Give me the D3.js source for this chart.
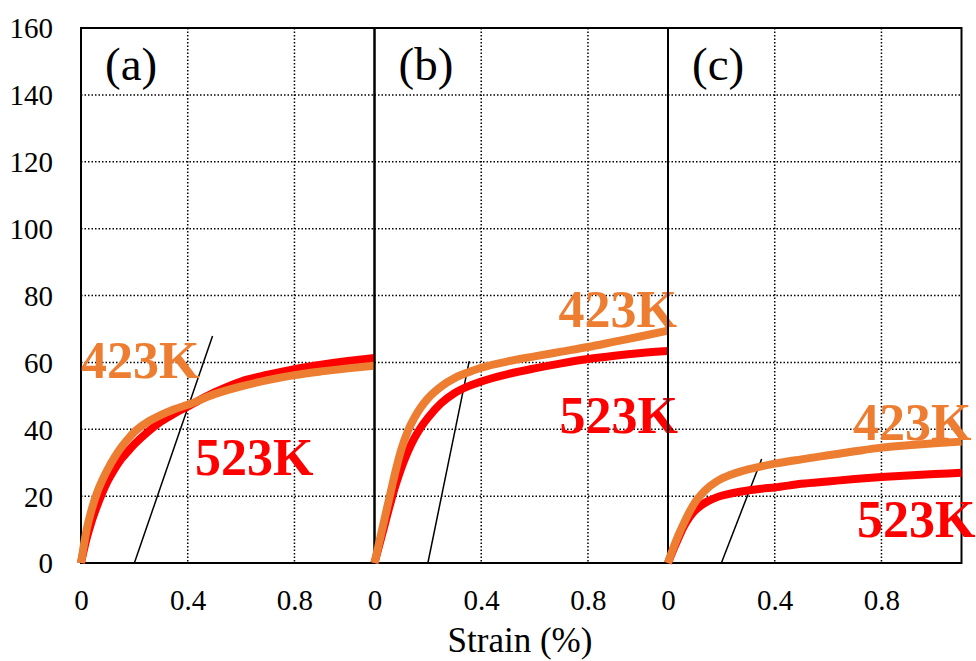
<!DOCTYPE html>
<html>
<head>
<meta charset="utf-8">
<script src="https://cdn.jsdelivr.net/npm/d3@7"></script>
<style>
body { margin: 0; background: #fff; }
text { font-family: "Liberation Serif", "Times New Roman", serif; }
</style>
</head>
<body>
<div id="plot"></div>
<script>
// strain (%) sample points shared by all curves
const strain = [0, 0.02, 0.04, 0.06, 0.08, 0.1, 0.125, 0.15, 0.175, 0.2, 0.25, 0.3, 0.35, 0.4, 0.5, 0.6, 0.7, 0.8, 0.9, 1.0, 1.1];

// stress values
const a_423 = [0, 9.5, 16, 21, 24.8, 28, 31.5, 34.5, 37, 39.2, 42.2, 44.3, 46, 47.3, 50.5, 52.8, 54.7, 56.2, 57.3, 58.2, 59];
const a_523 = [0, 7, 12.5, 17, 21, 24.5, 28, 31, 33.3, 35.5, 39.2, 42.3, 44.7, 46.8, 51, 54.3, 56.3, 58, 59.3, 60.4, 61.3];
const b_423 = [0, 7, 14, 21, 27.8, 33.8, 39.5, 43.5, 46.7, 49.2, 52.8, 55.3, 57, 58.4, 60.3, 61.8, 63.2, 64.6, 66.2, 67.8, 69.5];
const b_523 = [0, 6, 12, 18, 23.5, 28.3, 33.3, 37.4, 40.7, 43.4, 47.8, 50.8, 52.8, 54.3, 56.5, 58.2, 59.7, 61, 62, 62.8, 63.4];
const c_423 = [0, 4.5, 8.5, 12, 15.2, 18, 20.5, 22.5, 24, 25.2, 26.8, 28, 28.9, 29.7, 31, 32.2, 33.4, 34.5, 35.2, 35.8, 36.3];
const c_523 = [0, 4, 7.6, 11, 13.6, 15.6, 17.3, 18.5, 19.4, 20.1, 21, 21.7, 22.2, 22.6, 23.7, 24.4, 25.1, 25.7, 26.2, 26.6, 27];

// 0.2% offset lines: [x0, y0, x1, y1]
const offset_a = [0.2, 0, 0.493, 67.9];
const offset_b = [0.2, 0, 0.355, 60.4];
const offset_c = [0.2, 0, 0.351, 31.1];

const panelLabels = ["(a)", "(b)", "(c)"];
const yTicks = [0, 20, 40, 60, 80, 100, 120, 140, 160];
const xTicks = [0, 0.4, 0.8];

const margin = {top: 28, left: 81},
panelWidth = 293.5,
height = 535;

const svg = d3.select("#plot")
.append("svg")
.attr("width", 976)
.attr("height", 661);

const x = d3.scaleLinear()
.domain([0, 1.1])
.range([0, panelWidth]);

const y = d3.scaleLinear()
.domain([0, 160])
.range([height, 0]);

const root = svg.append("g")
.attr("transform", `translate(${margin.left},${margin.top})`);

// y axis labels
root.append("g")
.call(d3.axisLeft(y).tickValues(yTicks).tickSize(0).tickPadding(28))
.call(g => g.select(".domain").remove())
.selectAll("text")
.attr("dy", "0.34em")
.style("font-size", "29px")
.style("font-family", "Liberation Serif");

// label positions are [x inside panel, baseline y in page]
const panels = [
	{label: panelLabels[0], hi: a_423, lo: a_523, off: offset_a, tags: [[0, 378], [114, 475]]},
	{label: panelLabels[1], hi: b_423, lo: b_523, off: offset_b, tags: [[184, 327], [185, 433]]},
	{label: panelLabels[2], hi: c_423, lo: c_523, off: offset_c, tags: [[185, 440], [189, 537]]}
];

const line = d3.line()
.x(d => x(d[0]))
.y(d => y(d[1]))
.curve(d3.curveMonotoneX);

panels.forEach((p, i) => {
	const g = root.append("g")
	.attr("transform", `translate(${i * panelWidth},0)`);

	// dotted grid
	g.selectAll(".hgrid")
	.data(yTicks.filter(v => v > 0 && v < 160))
	.join("line")
	.attr("x1", 0).attr("x2", panelWidth)
	.attr("y1", d => y(d)).attr("y2", d => y(d))
	.attr("stroke", "#000")
	.attr("stroke-width", 1.5)
	.attr("stroke-dasharray", "1.5,2");

	g.selectAll(".vgrid")
	.data([0.4, 0.8])
	.join("line")
	.attr("x1", d => x(d)).attr("x2", d => x(d))
	.attr("y1", 0).attr("y2", height)
	.attr("stroke", "#000")
	.attr("stroke-width", 1.5)
	.attr("stroke-dasharray", "1.5,2");

	// panel frame
	g.append("rect")
	.attr("x", 0).attr("y", 0)
	.attr("width", panelWidth).attr("height", height)
	.attr("fill", "none")
	.attr("stroke", "#000")
	.attr("stroke-width", 2);

	// x axis labels
	g.append("g")
	.attr("transform", `translate(0,${height})`)
	.call(d3.axisBottom(x).tickValues(xTicks).tickSize(0).tickPadding(26).tickFormat(d => d === 0 ? "0" : d3.format(".1f")(d)))
	.call(ax => ax.select(".domain").remove())
	.selectAll("text")
	.style("font-size", "29px")
	.style("font-family", "Liberation Serif");

	// offset line
	g.append("line")
	.attr("x1", x(p.off[0])).attr("y1", y(p.off[1]))
	.attr("x2", x(p.off[2])).attr("y2", y(p.off[3]))
	.attr("stroke", "#000")
	.attr("stroke-width", 1.5);

	// curves
	g.append("path")
	.datum(strain.map((s, k) => [s, p.lo[k]]))
	.attr("d", line)
	.attr("fill", "none")
	.attr("stroke", "#ff0000")
	.attr("stroke-width", 8);

	g.append("path")
	.datum(strain.map((s, k) => [s, p.hi[k]]))
	.attr("d", line)
	.attr("fill", "none")
	.attr("stroke", "#ed7d31")
	.attr("stroke-width", 8);

	// panel label
	g.append("text")
	.attr("x", 24).attr("y", 80 - margin.top)
	.style("font-size", "47px")
	.text(p.label);

	// temperature labels
	g.append("text")
	.attr("x", p.tags[0][0]).attr("y", p.tags[0][1] - margin.top)
	.style("font-size", "52px")
	.style("font-weight", "bold")
	.attr("fill", "#ed7d31")
	.text("423K");

	g.append("text")
	.attr("x", p.tags[1][0]).attr("y", p.tags[1][1] - margin.top)
	.style("font-size", "52px")
	.style("font-weight", "bold")
	.attr("fill", "#ff0000")
	.text("523K");
});

// x axis title
svg.append("text")
.attr("x", 520)
.attr("y", 652)
.attr("text-anchor", "middle")
.style("font-size", "35px")
.text("Strain (%)");
</script>
</body>
</html>
